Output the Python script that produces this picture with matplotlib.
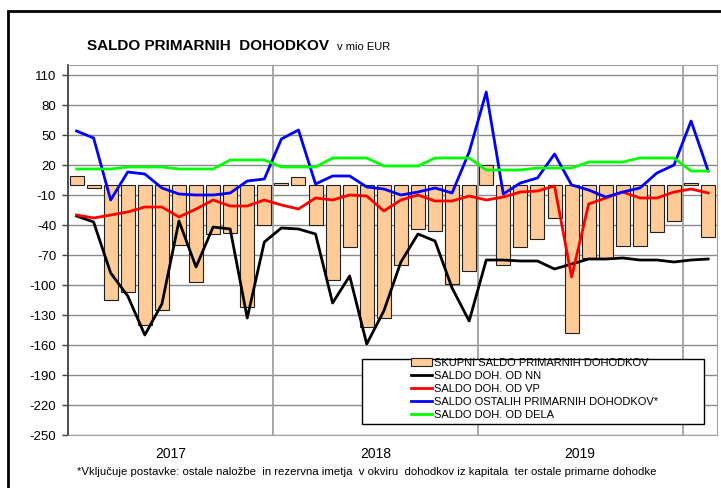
import numpy as np
import matplotlib
matplotlib.use("Agg")
import matplotlib.pyplot as plt
from matplotlib.patches import Rectangle

plt.rcParams['font.family'] = ['Liberation Sans', 'DejaVu Sans']
plt.rcParams['axes.unicode_minus'] = False

# monthly data, Jan 2017 - Feb 2020
years = ["2017", "2018", "2019"]
skupni = [9, -3, -115, -107, -140, -125, -60, -97, -49, -48, -122, -40,
          2, 8, -40, -95, -62, -142, -133, -80, -44, -46, -99, -86,
          20, -80, -62, -54, -33, -148, -73, -73, -61, -61, -47, -36,
          2, -52]
nn = [-31, -37, -88, -111, -150, -119, -36, -82, -42, -44, -133, -57,
      -43, -44, -49, -118, -91, -159, -126, -77, -49, -56, -103, -136,
      -75, -75, -76, -76, -84, -79, -74, -74, -73, -75, -75, -77,
      -75, -74]
vp = [-30, -33, -30, -27, -22, -22, -32, -24, -15, -21, -21, -15,
      -20, -24, -13, -15, -10, -11, -26, -15, -10, -16, -16, -11,
      -15, -12, -7, -6, -1, -92, -19, -13, -7, -13, -13, -7,
      -4, -8]
ostali = [54, 47, -15, 13, 11, -3, -9, -10, -10, -8, 4, 6,
          46, 55, 1, 9, 9, -2, -4, -10, -7, -3, -8, 33,
          93, -9, 2, 7, 31, 0, -5, -12, -7, -3, 12, 20,
          64, 14]
dela = [16, 16, 16, 18, 18, 18, 16, 16, 16, 25, 25, 25,
        18, 18, 18, 27, 27, 27, 19, 19, 19, 27, 27, 27,
        15, 15, 15, 17, 17, 17, 23, 23, 23, 27, 27, 27,
        14, 14]

labels = ["SKUPNI SALDO PRIMARNIH DOHODKOV", "SALDO DOH. OD NN", "SALDO DOH. OD VP",
          "SALDO OSTALIH PRIMARNIH DOHODKOV*", "SALDO DOH. OD DELA"]

x = np.arange(len(skupni))

fig = plt.figure(figsize=(7.21, 4.88), dpi=100)
ax = fig.add_axes([68/721, 1-435/488, (716.7-68)/721, 370/488])

grid_c = '#8a8a8a'
for v in range(-250, 111, 30):
    ax.axhline(v, color=grid_c, lw=1, zorder=0)
for b in [11.5, 23.5, 35.5]:
    ax.axvline(b, color='#a0a0a0', lw=1.3, zorder=0)

bars = ax.bar(x, skupni, width=0.82, color='#FFCC99', edgecolor='#202020', lw=0.8, zorder=2)
l1, = ax.plot(x, nn, color='black', lw=2, zorder=3)
l2, = ax.plot(x, vp, color='#FF0000', lw=2, zorder=3)
l3, = ax.plot(x, ostali, color='#0000FF', lw=2, zorder=3)
l4, = ax.plot(x, dela, color='#00FF00', lw=2, zorder=3)

ax.set_xlim(-0.5, len(skupni) - 0.5)
ax.set_ylim(-250, 120)
ax.set_yticks(range(-250, 111, 30))
ax.set_xticks([])
ax.tick_params(axis='y', direction='out', length=4.5, width=1, pad=4, labelsize=9.5, color='#404040')
for s in ['top', 'right', 'bottom']:
    ax.spines[s].set_color('#a0a0a0')
ax.spines['left'].set_color('#404040')
ax.spines['left'].set_linewidth(1.3)

# year labels
for k, yr in enumerate(years):
    ax.text(k*12 + 5.5, -0.05, yr, transform=ax.get_xaxis_transform(),
            ha='center', va='center', fontsize=10)

# legend with manual box
fig.patches.append(Rectangle((362/721, 1-424/488), (704-362)/721, (424-359)/488,
                             transform=fig.transFigure, fill=True, facecolor='white',
                             edgecolor='black', lw=1, zorder=4))
leg = fig.legend([bars, l1, l2, l3, l4], labels, loc='upper left',
                 bbox_to_anchor=(411/721, 1-358/488), frameon=False, fontsize=8,
                 handlelength=1.85, handleheight=0.7, handletextpad=0.2, labelspacing=0.27,
                 borderaxespad=0, borderpad=0)
leg.set_zorder(6)

# title
fig.text(87/721, 1-46/488, "SALDO PRIMARNIH  DOHODKOV", fontsize=11, fontweight='bold',
         ha='left', va='center')
fig.text(337/721, 1-47/488, "v mio EUR", fontsize=8, ha='left', va='center')

# footnote
fig.text(77/721, 1-472/488,
         "*Vključuje postavke: ostale naložbe  in rezervna imetja  v okviru  dohodkov iz kapitala  ter ostale primarne dohodke",
         fontsize=8.2, ha='left', va='center')

# outer border
fig.patches.append(Rectangle((8/721, -0.05), 1.0, 1-11/488 + 0.05, transform=fig.transFigure,
                             fill=False, edgecolor='black', lw=2))

fig.savefig("out.png", dpi=100)
